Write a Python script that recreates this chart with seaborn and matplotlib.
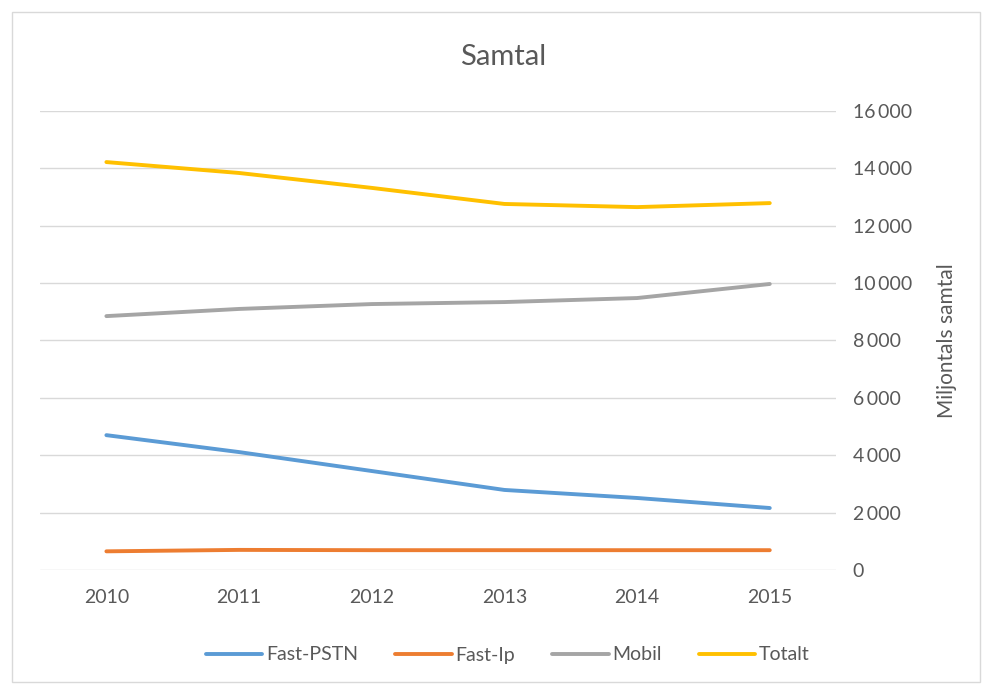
import pandas as pd
import matplotlib.pyplot as plt
import matplotlib.ticker as mticker
from matplotlib.patches import Rectangle
import seaborn as sns

# --- Data ---
years = ["2010", "2011", "2012", "2013", "2014", "2015"]
fast_pstn = [4700, 4110, 3450, 2790, 2510, 2160]
fast_ip = [650, 700, 690, 690, 690, 690]
mobil = [8850, 9100, 9270, 9340, 9480, 9970]
totalt = [14220, 13840, 13320, 12760, 12650, 12790]

series = {"Fast-PSTN": fast_pstn, "Fast-Ip": fast_ip, "Mobil": mobil, "Totalt": totalt}
df = pd.concat(
    [pd.DataFrame({"År": years, "Samtal": vals, "Typ": name}) for name, vals in series.items()],
    ignore_index=True,
)

palette = {
    "Fast-PSTN": "#5B9BD5",
    "Fast-Ip": "#ED7D31",
    "Mobil": "#A5A5A5",
    "Totalt": "#FFC000",
}

sns.set_theme(style="white")
plt.rcParams["font.family"] = ["Lato", "DejaVu Sans"]
text_color = "#595959"

fig = plt.figure(figsize=(9.84, 6.84), dpi=100)
ax = fig.add_axes([0.0407, 0.1667, 0.809, 0.671])

sns.lineplot(data=df, x="År", y="Samtal", hue="Typ", palette=palette,
             linewidth=2.8, ax=ax, sort=False)

ax.set_xlim(-0.5, 5.5)
ax.set_ylim(0, 16000)
ax.yaxis.set_major_locator(mticker.MultipleLocator(2000))
ax.yaxis.set_major_formatter(
    mticker.FuncFormatter(lambda v, p: f"{int(v):,}".replace(",", "\u2009")))
ax.yaxis.tick_right()
ax.yaxis.set_label_position("right")
ax.grid(axis="y", color="#d9d9d9", linewidth=1)
ax.set_axisbelow(True)
for s in ax.spines.values():
    s.set_visible(False)
ax.tick_params(axis="both", length=0, labelsize=14, colors=text_color)
ax.tick_params(axis="y", pad=12)
ax.tick_params(axis="x", pad=14)
ax.set_xlabel("")
ax.set_ylabel("Miljontals samtal", fontsize=15, color=text_color, labelpad=18)

fig.text(503 / 984, 1 - 57 / 684, "Samtal", ha="center", va="center",
         fontsize=21, color=text_color)

handles, labels = ax.get_legend_handles_labels()
ax.legend(handles, labels, loc="center", bbox_to_anchor=(508 / 984, 1 - 655 / 684),
          bbox_transform=fig.transFigure, ncol=4, frameon=False, fontsize=14,
          handlelength=2.9, handletextpad=0.2, columnspacing=1.9,
          labelcolor=text_color)

# thin chart-area border like the original
fig.patches.append(Rectangle((12 / 984, 2 / 684), 968 / 984, 670 / 684,
                             transform=fig.transFigure, fill=False,
                             edgecolor="#d9d9d9", linewidth=1))

fig.savefig("out.png", dpi=100)
